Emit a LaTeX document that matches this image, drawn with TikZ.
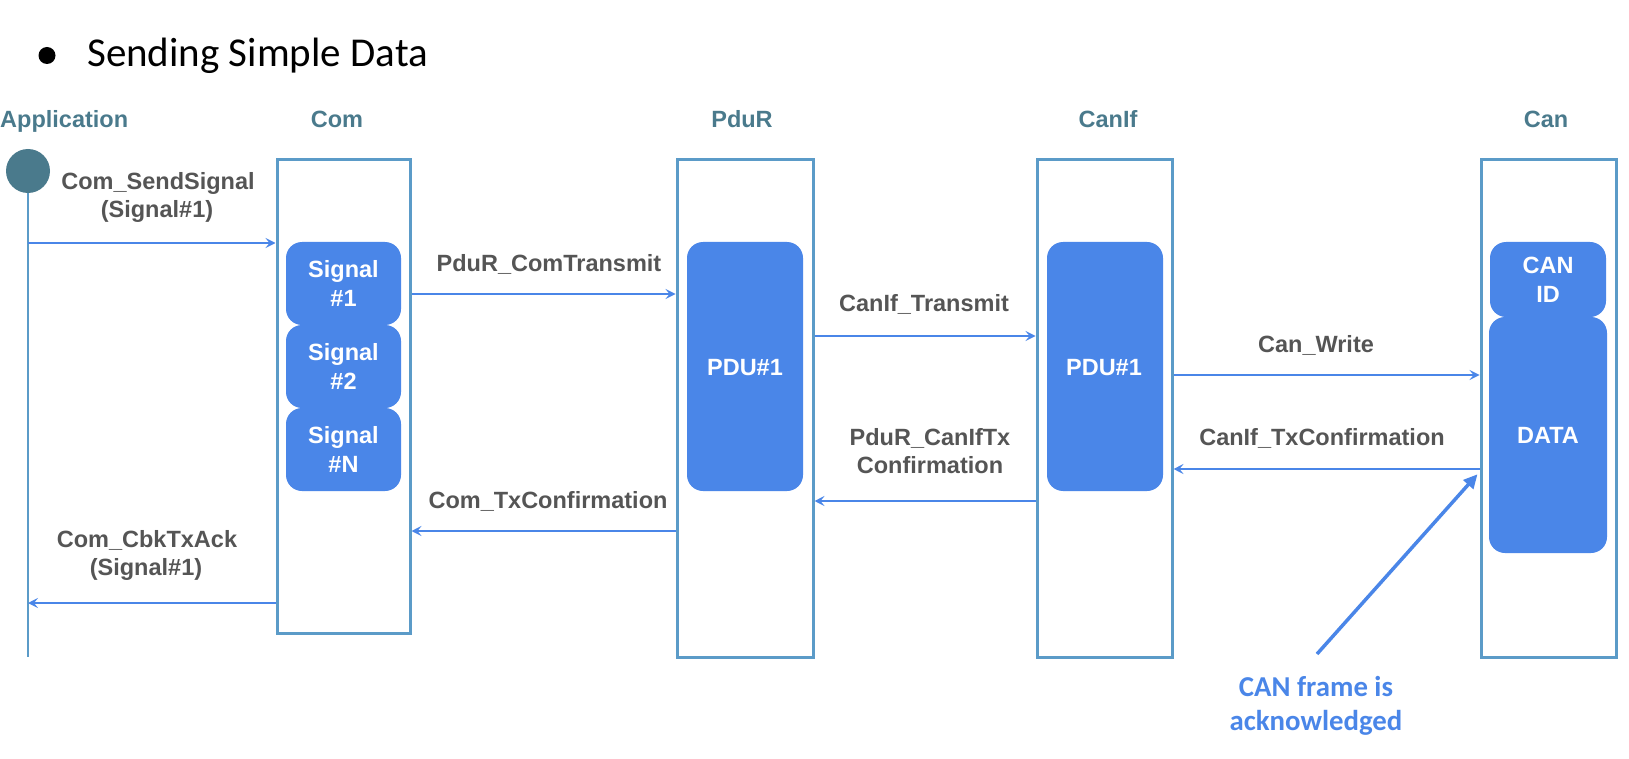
\documentclass[tikz,border=0pt]{standalone}
\usepackage{fontspec}
\setmainfont{Liberation Sans}
\newfontfamily\carlito{Carlito}
\usetikzlibrary{arrows.meta}
\definecolor{boxblue}{RGB}{91,155,200}
\definecolor{fillblue}{RGB}{74,134,232}
\definecolor{headteal}{RGB}{74,122,140}
\definecolor{labelgray}{RGB}{85,85,85}
\begin{document}
\begin{tikzpicture}[x=1pt,y=-1pt,
  lifebox/.style={draw=boxblue, line width=3pt, fill=white, inner sep=0pt, rectangle},
  blk/.style={fill=fillblue, rounded corners=16pt, inner sep=0pt, text=white,
    font=\bfseries\fontsize{23.5}{29}\selectfont, align=center},
  blktext/.style={text=white, font=\bfseries\fontsize{23.5}{29}\selectfont, anchor=base, inner sep=0pt},
  head/.style={text=headteal, font=\bfseries\fontsize{23.5}{28}\selectfont, anchor=base, inner sep=0pt},
  lbl/.style={text=labelgray, font=\bfseries\fontsize{23.5}{28}\selectfont, anchor=base, inner sep=0pt},
  msg/.style={draw=fillblue, line width=2.2pt, -{Stealth[length=10pt,width=10pt,inset=4pt]}},
  ackarrow/.style={draw=fillblue, line width=3.5pt, -{Triangle[length=14pt,width=13pt]}},
  lifeline/.style={draw=boxblue, line width=2.6pt},
  acktext/.style={text=fillblue, font=\carlito\bfseries\fontsize{28.8}{34}\selectfont, anchor=base, inner sep=0pt}]

\useasboundingbox (0,0) rectangle (1629,759);

% title
\node[circle, fill=black, minimum size=17pt, inner sep=0pt] (bullet) at (47,55.5) {};
\node[anchor=base west, inner sep=0pt, font=\carlito\fontsize{41}{48}\selectfont] (title) at (87,67) {Sending Simple Data};

% headers
\node[head, anchor=base west] (happ) at (0,128) {Application};
\node[head] (hcom) at (337,128) {Com};
\node[head] (hpdur) at (742,128) {PduR};
\node[head] (hcanif) at (1108,128) {CanIf};
\node[head] (hcan) at (1546,128) {Can};

% application lifeline
\node[circle, fill=headteal, minimum size=44pt, inner sep=0pt] (app) at (28,171) {};
\coordinate (append) at (28,657);
\draw[lifeline] (app.south) -- (append);

% module boxes
\node[lifebox, minimum width=133pt, minimum height=473pt] (com) at (343.5,396.5) {};
\node[lifebox, minimum width=136pt, minimum height=497pt] (pdur) at (745,408.5) {};
\node[lifebox, minimum width=135pt, minimum height=497pt] (canif) at (1104.5,408.5) {};
\node[lifebox, minimum width=135pt, minimum height=497pt] (can) at (1548.5,408.5) {};

% Com signals
\node[blk, minimum width=115pt, minimum height=83pt] (sig1) at (343.5,283.5) {Signal\\\#1};
\node[blk, minimum width=115pt, minimum height=83pt] (sig2) at (343.5,366.5) {Signal\\\#2};
\node[blk, minimum width=115pt, minimum height=83pt] (sign) at (343.5,449.5) {Signal\\\#N};

% PDUs
\node[blk, minimum width=116pt, minimum height=249pt] (pdurpdu) at (745,366.5) {};
\node[blktext] (pdurpdutxt) at (745,375) {PDU\#1};
\node[blk, minimum width=116pt, minimum height=249pt] (canifpdu) at (1105,366.5) {};
\node[blktext] (canifpdutxt) at (1104,375) {PDU\#1};

% Can frame
\node[blk, minimum width=116pt, minimum height=75pt] (canid) at (1548,279.5) {CAN\\ID};
\node[blk, minimum width=118pt, minimum height=236pt] (data) at (1548,435) {DATA};

% messages
\draw[msg] (app.center |- 0,243) -- (com.west |- 0,243);
\node[lbl] (l1a) at (158,190) {Com\_SendSignal};
\node[lbl] (l1b) at (157,218) {(Signal\#1)};

\draw[msg] (com.east |- 0,294) -- (pdur.west |- 0,294);
\node[lbl] (l2) at (549,272) {PduR\_ComTransmit};

\draw[msg] (pdur.east |- 0,336) -- (canif.west |- 0,336);
\node[lbl] (l3) at (924,311) {CanIf\_Transmit};

\draw[msg] (canif.east |- 0,375) -- (can.west |- 0,375);
\node[lbl] (l4) at (1316,352) {Can\_Write};

\draw[msg] (can.west |- 0,469) -- (canif.east |- 0,469);
\node[lbl] (l5) at (1322,445) {CanIf\_TxConfirmation};

\draw[msg] (canif.west |- 0,501) -- (pdur.east |- 0,501);
\node[lbl] (l6a) at (930,445) {PduR\_CanIfTx};
\node[lbl] (l6b) at (930,473) {Confirmation};

\draw[msg] (pdur.west |- 0,531) -- (com.east |- 0,531);
\node[lbl] (l7) at (548,508) {Com\_TxConfirmation};

\draw[msg] (com.west |- 0,603) -- (app.center |- 0,603);
\node[lbl] (l8a) at (147,547) {Com\_CbkTxAck};
\node[lbl] (l8b) at (146,575) {(Signal\#1)};

% acknowledgement annotation
\coordinate (ackfoot) at (1317,654);
\draw[ackarrow, shorten >=3pt] (ackfoot) -- (can.west |- 0,472);
\node[acktext] (ack1) at (1316,696) {CAN frame is};
\node[acktext] (ack2) at (1316,730) {acknowledged};
\end{tikzpicture}
\end{document}
